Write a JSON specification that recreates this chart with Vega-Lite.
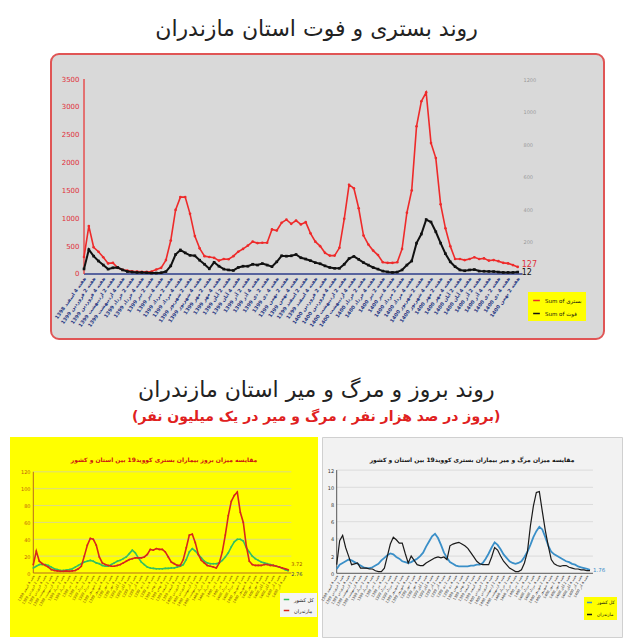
{
  "$schema": "https://vega.github.io/schema/vega-lite/v6.json",
  "background": "white",
  "padding": {"left": 10, "top": 17, "right": 0, "bottom": 0},
  "config": {"font": "DejaVu Sans", "view": {"stroke": null}, "axis": {"labelOverlap": false}},
  "datasets": {
    "top": [
      {"i":0,"b":305,"f":31},{"i":1,"b":860,"f":150},{"i":2,"b":480,"f":110},{"i":3,"b":400,"f":80},{"i":4,"b":300,"f":55},
      {"i":5,"b":190,"f":30},{"i":6,"b":200,"f":38},{"i":7,"b":110,"f":40},{"i":8,"b":75,"f":25},{"i":9,"b":60,"f":15},
      {"i":10,"b":50,"f":12},{"i":11,"b":45,"f":10},{"i":12,"b":40,"f":10},{"i":13,"b":40,"f":8},{"i":14,"b":45,"f":6},
      {"i":15,"b":80,"f":6},{"i":16,"b":110,"f":8},{"i":17,"b":250,"f":15},{"i":18,"b":600,"f":50},{"i":19,"b":1150,"f":120},
      {"i":20,"b":1380,"f":148},{"i":21,"b":1380,"f":130},{"i":22,"b":1080,"f":115},{"i":23,"b":680,"f":112},{"i":24,"b":460,"f":85},
      {"i":25,"b":320,"f":60},{"i":26,"b":305,"f":32},{"i":27,"b":290,"f":72},{"i":28,"b":240,"f":48},{"i":29,"b":270,"f":30},
      {"i":30,"b":265,"f":25},{"i":31,"b":320,"f":22},{"i":32,"b":400,"f":40},{"i":33,"b":450,"f":48},{"i":34,"b":510,"f":48},
      {"i":35,"b":580,"f":60},{"i":36,"b":555,"f":55},{"i":37,"b":560,"f":64},{"i":38,"b":560,"f":55},{"i":39,"b":800,"f":45},
      {"i":40,"b":780,"f":75},{"i":41,"b":920,"f":112},{"i":42,"b":975,"f":110},{"i":43,"b":900,"f":112},{"i":44,"b":960,"f":120},
      {"i":45,"b":890,"f":100},{"i":46,"b":930,"f":92},{"i":47,"b":730,"f":82},{"i":48,"b":580,"f":70},{"i":49,"b":500,"f":63},
      {"i":50,"b":380,"f":50},{"i":51,"b":330,"f":40},{"i":52,"b":330,"f":35},{"i":53,"b":470,"f":35},{"i":54,"b":990,"f":60},
      {"i":55,"b":1600,"f":95},{"i":56,"b":1540,"f":108},{"i":57,"b":1180,"f":90},{"i":58,"b":690,"f":70},{"i":59,"b":530,"f":55},
      {"i":60,"b":420,"f":40},{"i":61,"b":340,"f":30},{"i":62,"b":210,"f":18},{"i":63,"b":200,"f":13},{"i":64,"b":200,"f":10},
      {"i":65,"b":210,"f":12},{"i":66,"b":450,"f":25},{"i":67,"b":1100,"f":55},{"i":68,"b":1500,"f":80},{"i":69,"b":2650,"f":190},
      {"i":70,"b":3100,"f":246},{"i":71,"b":3260,"f":335},{"i":72,"b":2350,"f":320},{"i":73,"b":2080,"f":260},{"i":74,"b":1250,"f":190},
      {"i":75,"b":820,"f":125},{"i":76,"b":500,"f":75},{"i":77,"b":270,"f":45},{"i":78,"b":270,"f":25},{"i":79,"b":250,"f":20},
      {"i":80,"b":270,"f":25},{"i":81,"b":300,"f":27},{"i":82,"b":270,"f":18},{"i":83,"b":280,"f":17},{"i":84,"b":240,"f":16},
      {"i":85,"b":250,"f":15},{"i":86,"b":230,"f":12},{"i":87,"b":200,"f":10},{"i":88,"b":190,"f":10},{"i":89,"b":160,"f":10},
      {"i":90,"b":127,"f":12}
    ],
    "bl": [
      {"i":0,"k":6,"m":10},{"i":1,"k":8,"m":26},{"i":2,"k":10,"m":14},{"i":3,"k":10,"m":11},{"i":4,"k":10,"m":9},
      {"i":5,"k":9,"m":7},{"i":6,"k":7,"m":4},{"i":7,"k":5,"m":3},{"i":8,"k":4,"m":2.5},{"i":9,"k":3,"m":2},
      {"i":10,"k":3,"m":2},{"i":11,"k":3.5,"m":2.5},{"i":12,"k":4,"m":2},{"i":13,"k":5,"m":2.5},{"i":14,"k":7,"m":3},
      {"i":15,"k":9,"m":5},{"i":16,"k":11,"m":8},{"i":17,"k":13,"m":20},{"i":18,"k":14,"m":33},{"i":19,"k":15,"m":41},
      {"i":20,"k":14,"m":40},{"i":21,"k":12,"m":33},{"i":22,"k":11,"m":19},{"i":23,"k":9,"m":12},{"i":24,"k":8,"m":10},
      {"i":25,"k":8,"m":9},{"i":26,"k":10,"m":8},{"i":27,"k":12,"m":8},{"i":28,"k":14,"m":9},{"i":29,"k":15,"m":10},
      {"i":30,"k":17,"m":12},{"i":31,"k":19,"m":14},{"i":32,"k":23,"m":16},{"i":33,"k":27,"m":17},{"i":34,"k":24,"m":18},
      {"i":35,"k":18,"m":18},{"i":36,"k":13,"m":18},{"i":37,"k":10,"m":19},{"i":38,"k":7,"m":22},{"i":39,"k":6,"m":28},
      {"i":40,"k":5.5,"m":27},{"i":41,"k":5,"m":29},{"i":42,"k":5,"m":28},{"i":43,"k":5,"m":28},{"i":44,"k":5.5,"m":25},
      {"i":45,"k":5.5,"m":19},{"i":46,"k":6,"m":13},{"i":47,"k":6,"m":11},{"i":48,"k":7,"m":9},{"i":49,"k":8,"m":9},
      {"i":50,"k":10,"m":16},{"i":51,"k":16,"m":30},{"i":52,"k":25,"m":45},{"i":53,"k":29,"m":46},{"i":54,"k":26,"m":36},
      {"i":55,"k":22,"m":22},{"i":56,"k":18,"m":15},{"i":57,"k":14,"m":12},{"i":58,"k":12,"m":9},{"i":59,"k":11,"m":8},
      {"i":60,"k":11,"m":7},{"i":61,"k":11,"m":6},{"i":62,"k":12,"m":12},{"i":63,"k":15,"m":25},{"i":64,"k":19,"m":45},
      {"i":65,"k":24,"m":68},{"i":66,"k":31,"m":85},{"i":67,"k":37,"m":92},{"i":68,"k":40,"m":96},{"i":69,"k":40,"m":72},
      {"i":70,"k":38,"m":60},{"i":71,"k":30,"m":32},{"i":72,"k":25,"m":14},{"i":73,"k":20,"m":10},{"i":74,"k":17,"m":9},
      {"i":75,"k":15,"m":9},{"i":76,"k":13,"m":9},{"i":77,"k":12,"m":10},{"i":78,"k":11,"m":10},{"i":79,"k":10,"m":9},
      {"i":80,"k":9,"m":9},{"i":81,"k":8,"m":8},{"i":82,"k":7,"m":7},{"i":83,"k":5.5,"m":6},{"i":84,"k":4,"m":5},
      {"i":85,"k":2.76,"m":3.72}
    ],
    "br": [
      {"i":0,"k":0.5,"m":1.0},{"i":1,"k":1.0,"m":3.8},{"i":2,"k":1.2,"m":4.4},{"i":3,"k":1.4,"m":3.0},{"i":4,"k":1.6,"m":2.0},
      {"i":5,"k":1.5,"m":1.0},{"i":6,"k":1.3,"m":1.1},{"i":7,"k":1.1,"m":1.2},{"i":8,"k":0.9,"m":0.6},{"i":9,"k":0.7,"m":0.6},
      {"i":10,"k":0.6,"m":0.6},{"i":11,"k":0.6,"m":0.5},{"i":12,"k":0.7,"m":0.5},{"i":13,"k":0.9,"m":0.3},{"i":14,"k":1.1,"m":0.2},
      {"i":15,"k":1.5,"m":0.2},{"i":16,"k":1.8,"m":0.6},{"i":17,"k":2.1,"m":2.0},{"i":18,"k":2.3,"m":3.4},{"i":19,"k":2.2,"m":4.2},
      {"i":20,"k":1.9,"m":3.9},{"i":21,"k":1.7,"m":3.5},{"i":22,"k":1.4,"m":3.5},{"i":23,"k":1.3,"m":2.3},{"i":24,"k":1.2,"m":1.2},
      {"i":25,"k":1.3,"m":2.0},{"i":26,"k":1.5,"m":1.5},{"i":27,"k":1.7,"m":1.0},{"i":28,"k":2.0,"m":0.9},{"i":29,"k":2.4,"m":0.9},
      {"i":30,"k":3.1,"m":1.2},{"i":31,"k":3.7,"m":1.4},{"i":32,"k":4.3,"m":1.6},{"i":33,"k":4.6,"m":1.8},{"i":34,"k":4.1,"m":1.9},
      {"i":35,"k":3.3,"m":1.8},{"i":36,"k":2.4,"m":1.9},{"i":37,"k":1.8,"m":1.6},{"i":38,"k":1.3,"m":3.2},{"i":39,"k":1.1,"m":3.4},
      {"i":40,"k":0.9,"m":3.5},{"i":41,"k":0.8,"m":3.6},{"i":42,"k":0.8,"m":3.4},{"i":43,"k":0.8,"m":3.2},{"i":44,"k":0.8,"m":2.9},
      {"i":45,"k":0.9,"m":2.4},{"i":46,"k":0.9,"m":1.9},{"i":47,"k":1.0,"m":1.4},{"i":48,"k":1.0,"m":1.1},{"i":49,"k":1.2,"m":1.0},
      {"i":50,"k":1.7,"m":1.0},{"i":51,"k":2.3,"m":1.0},{"i":52,"k":3.0,"m":1.9},{"i":53,"k":3.6,"m":3.0},{"i":54,"k":3.3,"m":2.7},
      {"i":55,"k":2.8,"m":2.0},{"i":56,"k":2.2,"m":1.4},{"i":57,"k":1.8,"m":1.0},{"i":58,"k":1.4,"m":0.6},{"i":59,"k":1.2,"m":0.4},
      {"i":60,"k":1.1,"m":0.2},{"i":61,"k":1.2,"m":0.2},{"i":62,"k":1.4,"m":0.4},{"i":63,"k":1.9,"m":1.2},{"i":64,"k":2.5,"m":2.5},
      {"i":65,"k":3.3,"m":5.5},{"i":66,"k":4.2,"m":7.8},{"i":67,"k":4.9,"m":9.4},{"i":68,"k":5.4,"m":9.5},{"i":69,"k":5.1,"m":7.2},
      {"i":70,"k":4.2,"m":5.0},{"i":71,"k":3.2,"m":3.2},{"i":72,"k":2.5,"m":1.6},{"i":73,"k":2.2,"m":1.1},{"i":74,"k":2.0,"m":0.9},
      {"i":75,"k":1.8,"m":0.8},{"i":76,"k":1.6,"m":0.9},{"i":77,"k":1.4,"m":0.9},{"i":78,"k":1.3,"m":0.7},{"i":79,"k":1.1,"m":0.6},
      {"i":80,"k":1.0,"m":0.5},{"i":81,"k":0.8,"m":0.5},{"i":82,"k":0.7,"m":0.4},{"i":83,"k":0.6,"m":0.4},{"i":84,"k":0.5,"m":0.3},
      {"i":85,"k":0.4,"m":0.3}
    ]
  },
  "spacing": 38,
  "resolve": {"scale": {"color": "independent", "x": "independent", "y": "independent"}, "legend": {"color": "independent"}},
  "vconcat": [
    {
      "spacing": 0,
      "resolve": {"scale": {"color": "independent", "x": "independent", "y": "independent"}, "legend": {"color": "independent"}},
      "hconcat": [
        {
          "data": {"values": [{}]},
          "width": 40, "height": 10,
          "mark": "text",
          "encoding": {"text": {"value": ""}},
          "view": {"stroke": null}
        },
        {
          "data": {"name": "top"},
          "width": 553, "height": 285,
          "title": {"text": "روند بستری و فوت استان مازندران", "fontSize": 22, "fontWeight": "normal", "color": "#222222", "dx": -11, "offset": 13},
          "view": {"fill": "#d9d9d9", "stroke": "#e05555", "strokeWidth": 2, "cornerRadius": 8},
          "resolve": {"scale": {"y": "independent"}},
          "layer": [
            {
              "layer": [
                {
                  "data": {"values": [{}]},
                  "mark": {"type": "rule", "color": "#2c3d8a", "strokeWidth": 1.3},
                  "encoding": {
                    "x": {"datum": 0, "type": "quantitative", "axis": {"title": null}},
                    "x2": {"datum": 91},
                    "y": {"datum": 0, "type": "quantitative", "axis": {"title": null}}
                  }
                },
                {
                  "data": {"values": [{}]},
                  "mark": {"type": "rule", "color": "#e83a3a", "strokeWidth": 1.3},
                  "encoding": {
                    "x": {"datum": 0, "type": "quantitative", "axis": {"title": null}},
                    "y": {"datum": 0, "type": "quantitative", "axis": {"title": null}},
                    "y2": {"datum": 3500}
                  }
                },
                {
                  "mark": {"type": "line", "strokeWidth": 1.6, "point": {"filled": true, "size": 7}},
                  "encoding": {
                    "x": {
                      "field": "i", "type": "quantitative",
                      "scale": {"domain": [-6.85, 107.9], "nice": false, "zero": false},
                      "axis": {
                        "orient": "bottom", "offset": -65, "title": null, "tickCount": 200,
                        "values": [0,2,4,6,8,10,12,14,16,18,20,22,24,26,28,30,32,34,36,38,40,42,44,46,48,50,52,54,56,58,60,62,64,66,68,70,72,74,76,78,80,82,84,86,88,90],
                        "labelExpr": "(floor((datum.value-1)/48)+1399) + ' هفته ' + (((datum.value+47)%48)%4+1) + ' ' + ['فروردین','اردیبهشت','خرداد','تیر','مرداد','شهریور','مهر','آبان','آذر','دی','بهمن','اسفند'][floor(((datum.value+47)%48)/4)]",
                        "labelAngle": -55, "labelFontSize": 5, "labelColor": "#2b3b85", "labelFontWeight": "bold",
                        "domain": false, "ticks": false, "grid": false, "labelPadding": 3, "labelOverlap": false, "labelBound": false
                      }
                    },
                    "y": {
                      "field": "b", "type": "quantitative",
                      "scale": {"domain": [-1167, 3949], "nice": false, "zero": false},
                      "axis": {"orient": "left", "offset": -33, "tickCount": 100, "values": [0,500,1000,1500,2000,2500,3000,3500], "format": "d", "domain": false, "ticks": false, "grid": false, "labelColor": "#e0303a", "labelFontSize": 7, "labelPadding": 5, "title": null}
                    },
                    "color": {
                      "datum": "Sum of بستری",
                      "scale": {"domain": ["Sum of بستری", "Sum of فوت"], "range": ["#ee2a2a", "#111111"]},
                      "legend": {"orient": "none", "legendX": 477, "legendY": 238, "fillColor": "#ffff00", "padding": 4, "labelFontSize": 5.5, "labelColor": "#111111", "symbolType": "stroke", "symbolStrokeWidth": 1.5, "symbolSize": 45, "title": null, "rowPadding": 5}
                    }
                  }
                },
                {
                  "transform": [{"filter": "datum.i == 90"}],
                  "mark": {"type": "text", "align": "left", "dx": 4, "dy": -2, "fontSize": 8, "color": "#e0303a"},
                  "encoding": {
                    "x": {"field": "i", "type": "quantitative", "axis": {"title": null}},
                    "y": {"field": "b", "type": "quantitative", "axis": {"title": null}},
                    "text": {"field": "b"}
                  }
                }
              ]
            },
            {
              "layer": [
                {
                  "mark": {"type": "line", "strokeWidth": 2, "point": {"filled": true, "size": 7, "shape": "square"}},
                  "encoding": {
                    "x": {"field": "i", "type": "quantitative", "axis": {"title": null}},
                    "y": {
                      "field": "f", "type": "quantitative",
                      "scale": {"domain": [-400, 1354], "nice": false, "zero": false},
                      "axis": {"orient": "right", "offset": -84, "tickCount": 100, "values": [200,400,600,800,1000,1200], "format": "d", "domain": false, "ticks": false, "grid": false, "labelColor": "#999999", "labelFontSize": 5, "labelPadding": 3, "title": null}
                    },
                    "color": {"datum": "Sum of فوت"}
                  }
                },
                {
                  "transform": [{"filter": "datum.i == 90"}],
                  "mark": {"type": "text", "align": "left", "dx": 4, "dy": 1, "fontSize": 8, "color": "#111111"},
                  "encoding": {
                    "x": {"field": "i", "type": "quantitative", "axis": {"title": null}},
                    "y": {"field": "f", "type": "quantitative", "axis": {"title": null}},
                    "text": {"field": "f"}
                  }
                }
              ]
            }
          ]
        }
      ]
    },
    {
      "spacing": 4,
      "bounds": "flush",
      "title": {
        "text": "روند بروز و مرگ و میر استان مازندران",
        "subtitle": "(بروز در صد هزار نفر ، مرگ و میر در یک میلیون نفر)",
        "fontSize": 22, "fontWeight": "normal", "color": "#222222",
        "subtitleFontSize": 14, "subtitleColor": "#e02020", "subtitleFontWeight": "bold", "subtitleFont": "DejaVu Sans",
        "anchor": "middle", "subtitlePadding": 8, "offset": 12
      },
      "resolve": {"scale": {"color": "independent", "x": "independent", "y": "independent"}, "legend": {"color": "independent"}},
      "hconcat": [
        {
          "data": {"name": "bl"},
          "width": 308, "height": 200,
          "view": {"fill": "#ffff00", "stroke": null},
          "title": {"text": "مقایسه میزان بروز بیماران بستری کووید19 بین استان و کشور", "fontSize": 6, "color": "#cc1111", "offset": -26, "fontWeight": "bold"},
          "layer": [
            {
              "data": {"values": [{"g": 20}, {"g": 40}, {"g": 60}, {"g": 80}, {"g": 100}, {"g": 120}]},
              "mark": {"type": "rule", "color": "#d2d2a4", "strokeWidth": 0.8},
              "encoding": {
                "x": {"datum": 0, "type": "quantitative", "axis": {"title": null}},
                "x2": {"datum": 86},
                "y": {"field": "g", "type": "quantitative", "axis": {"title": null}}
              }
            },
            {
              "data": {"values": [{}]},
              "mark": {"type": "rule", "color": "#b86a1e", "strokeWidth": 1},
              "encoding": {
                "x": {"datum": 0, "type": "quantitative", "axis": {"title": null}},
                "y": {"datum": 0, "type": "quantitative", "axis": {"title": null}},
                "y2": {"datum": 120}
              }
            },
            {
              "data": {"values": [{}]},
              "mark": {"type": "rule", "color": "#b86a1e", "strokeWidth": 1},
              "encoding": {
                "x": {"datum": 0, "type": "quantitative", "axis": {"title": null}},
                "x2": {"datum": 86},
                "y": {"datum": 0, "type": "quantitative", "axis": {"title": null}}
              }
            },
            {
              "mark": {"type": "line", "strokeWidth": 1.6, "point": {"filled": true, "size": 3}},
              "encoding": {
                "x": {
                  "field": "i", "type": "quantitative",
                  "scale": {"domain": [-7.77, 94.9], "nice": false, "zero": false},
                  "axis": {
                    "orient": "bottom", "offset": -64, "title": null, "tickCount": 200,
                    "values": [0,2,4,6,8,10,12,14,16,18,20,22,24,26,28,30,32,34,36,38,40,42,44,46,48,50,52,54,56,58,60,62,64,66,68,70,72,74,76,78,80,82,84],
                    "labelExpr": "(floor((datum.value-1)/48)+1399) + ' هفته ' + (((datum.value+47)%48)%4+1) + ' ' + ['فروردین','اردیبهشت','خرداد','تیر','مرداد','شهریور','مهر','آبان','آذر','دی','بهمن','اسفند'][floor(((datum.value+47)%48)/4)]",
                    "labelAngle": -60, "labelFontSize": 3.5, "labelColor": "#7a4a10",
                    "domain": false, "ticks": false, "grid": false, "labelPadding": 2, "labelOverlap": false, "labelBound": false
                  }
                },
                "y": {
                  "field": "k", "type": "quantitative",
                  "scale": {"domain": [-75.9, 161.3], "nice": false, "zero": false},
                  "axis": {"orient": "left", "offset": -23, "tickCount": 100, "values": [0,20,40,60,80,100,120], "format": "d", "domain": false, "ticks": false, "grid": false, "labelColor": "#c06010", "labelFontSize": 5, "labelPadding": 3, "title": null}
                },
                "color": {
                  "datum": "کل کشور",
                  "scale": {"domain": ["کل کشور", "مازندران"], "range": ["#33c060", "#d8261c"]},
                  "legend": {"orient": "none", "legendX": 270, "legendY": 156, "fillColor": "#f4f4f4", "padding": 3, "labelFontSize": 5, "labelColor": "#111111", "symbolType": "stroke", "symbolStrokeWidth": 1.5, "symbolSize": 30, "title": null, "rowPadding": 4}
                }
              }
            },
            {
              "mark": {"type": "line", "strokeWidth": 1.6, "point": {"filled": true, "size": 3}},
              "encoding": {
                "x": {"field": "i", "type": "quantitative", "axis": {"title": null}},
                "y": {"field": "m", "type": "quantitative", "axis": {"title": null}},
                "color": {"datum": "مازندران"}
              }
            },
            {
              "transform": [{"filter": "datum.i == 85"}],
              "mark": {"type": "text", "align": "left", "dx": 3, "dy": -6, "fontSize": 5, "color": "#a05000"},
              "encoding": {
                "x": {"field": "i", "type": "quantitative", "axis": {"title": null}},
                "y": {"field": "m", "type": "quantitative", "axis": {"title": null}},
                "text": {"field": "m"}
              }
            },
            {
              "transform": [{"filter": "datum.i == 85"}],
              "mark": {"type": "text", "align": "left", "dx": 3, "dy": 3, "fontSize": 5, "color": "#333366"},
              "encoding": {
                "x": {"field": "i", "type": "quantitative", "axis": {"title": null}},
                "y": {"field": "k", "type": "quantitative", "axis": {"title": null}},
                "text": {"field": "k"}
              }
            }
          ]
        },
        {
          "data": {"name": "br"},
          "width": 300, "height": 200,
          "view": {"fill": "#f2f2f2", "stroke": "#d0d0d0"},
          "title": {"text": "مقایسه میزان مرگ و میر بیماران بستری کووید19 بین استان و کشور", "fontSize": 6, "color": "#111111", "offset": -26, "fontWeight": "bold"},
          "layer": [
            {
              "data": {"values": [{"g": 2}, {"g": 4}, {"g": 6}, {"g": 8}, {"g": 10}, {"g": 12}]},
              "mark": {"type": "rule", "color": "#d6d6d6", "strokeWidth": 0.8},
              "encoding": {
                "x": {"datum": 0, "type": "quantitative", "axis": {"title": null}},
                "x2": {"datum": 86},
                "y": {"field": "g", "type": "quantitative", "axis": {"title": null}}
              }
            },
            {
              "data": {"values": [{}]},
              "mark": {"type": "rule", "color": "#555555", "strokeWidth": 1},
              "encoding": {
                "x": {"datum": 0, "type": "quantitative", "axis": {"title": null}},
                "y": {"datum": 0, "type": "quantitative", "axis": {"title": null}},
                "y2": {"datum": 12}
              }
            },
            {
              "data": {"values": [{}]},
              "mark": {"type": "rule", "color": "#555555", "strokeWidth": 1},
              "encoding": {
                "x": {"datum": 0, "type": "quantitative", "axis": {"title": null}},
                "x2": {"datum": 86},
                "y": {"datum": 0, "type": "quantitative", "axis": {"title": null}}
              }
            },
            {
              "mark": {"type": "line", "strokeWidth": 1.8},
              "encoding": {
                "x": {
                  "field": "i", "type": "quantitative",
                  "scale": {"domain": [-4.93, 95.74], "nice": false, "zero": false},
                  "axis": {
                    "orient": "bottom", "offset": -64, "title": null, "tickCount": 200,
                    "values": [0,2,4,6,8,10,12,14,16,18,20,22,24,26,28,30,32,34,36,38,40,42,44,46,48,50,52,54,56,58,60,62,64,66,68,70,72,74,76,78,80,82,84],
                    "labelExpr": "(floor((datum.value-1)/48)+1399) + ' هفته ' + (((datum.value+47)%48)%4+1) + ' ' + ['فروردین','اردیبهشت','خرداد','تیر','مرداد','شهریور','مهر','آبان','آذر','دی','بهمن','اسفند'][floor(((datum.value+47)%48)/4)]",
                    "labelAngle": -60, "labelFontSize": 3.5, "labelColor": "#333333",
                    "domain": false, "ticks": false, "grid": false, "labelPadding": 2, "labelOverlap": false, "labelBound": false
                  }
                },
                "y": {
                  "field": "k", "type": "quantitative",
                  "scale": {"domain": [-7.41, 15.85], "nice": false, "zero": false},
                  "axis": {"orient": "left", "offset": -14.7, "tickCount": 100, "values": [0,2,4,6,8,10,12], "format": "d", "domain": false, "ticks": false, "grid": false, "labelColor": "#333333", "labelFontSize": 5, "labelPadding": 3, "title": null}
                },
                "color": {
                  "datum": "کل کشور",
                  "scale": {"domain": ["کل کشور", "مازندران"], "range": ["#3a8fc8", "#1a1a1a"]},
                  "legend": {"orient": "none", "legendX": 262, "legendY": 160, "fillColor": "#ffff00", "padding": 2, "labelFontSize": 4.5, "labelColor": "#111111", "symbolType": "stroke", "symbolStrokeWidth": 1.5, "symbolSize": 25, "title": null, "rowPadding": 5}
                }
              }
            },
            {
              "mark": {"type": "line", "strokeWidth": 1.2},
              "encoding": {
                "x": {"field": "i", "type": "quantitative", "axis": {"title": null}},
                "y": {"field": "m", "type": "quantitative", "axis": {"title": null}},
                "color": {"datum": "مازندران"}
              }
            },
            {
              "transform": [{"filter": "datum.i == 85"}],
              "mark": {"type": "text", "align": "left", "dx": 3, "dy": 0, "fontSize": 5.5, "color": "#3a8fc8"},
              "encoding": {
                "x": {"field": "i", "type": "quantitative", "axis": {"title": null}},
                "y": {"field": "k", "type": "quantitative", "axis": {"title": null}},
                "text": {"value": "1.76"}
              }
            }
          ]
        }
      ]
    }
  ]
}
